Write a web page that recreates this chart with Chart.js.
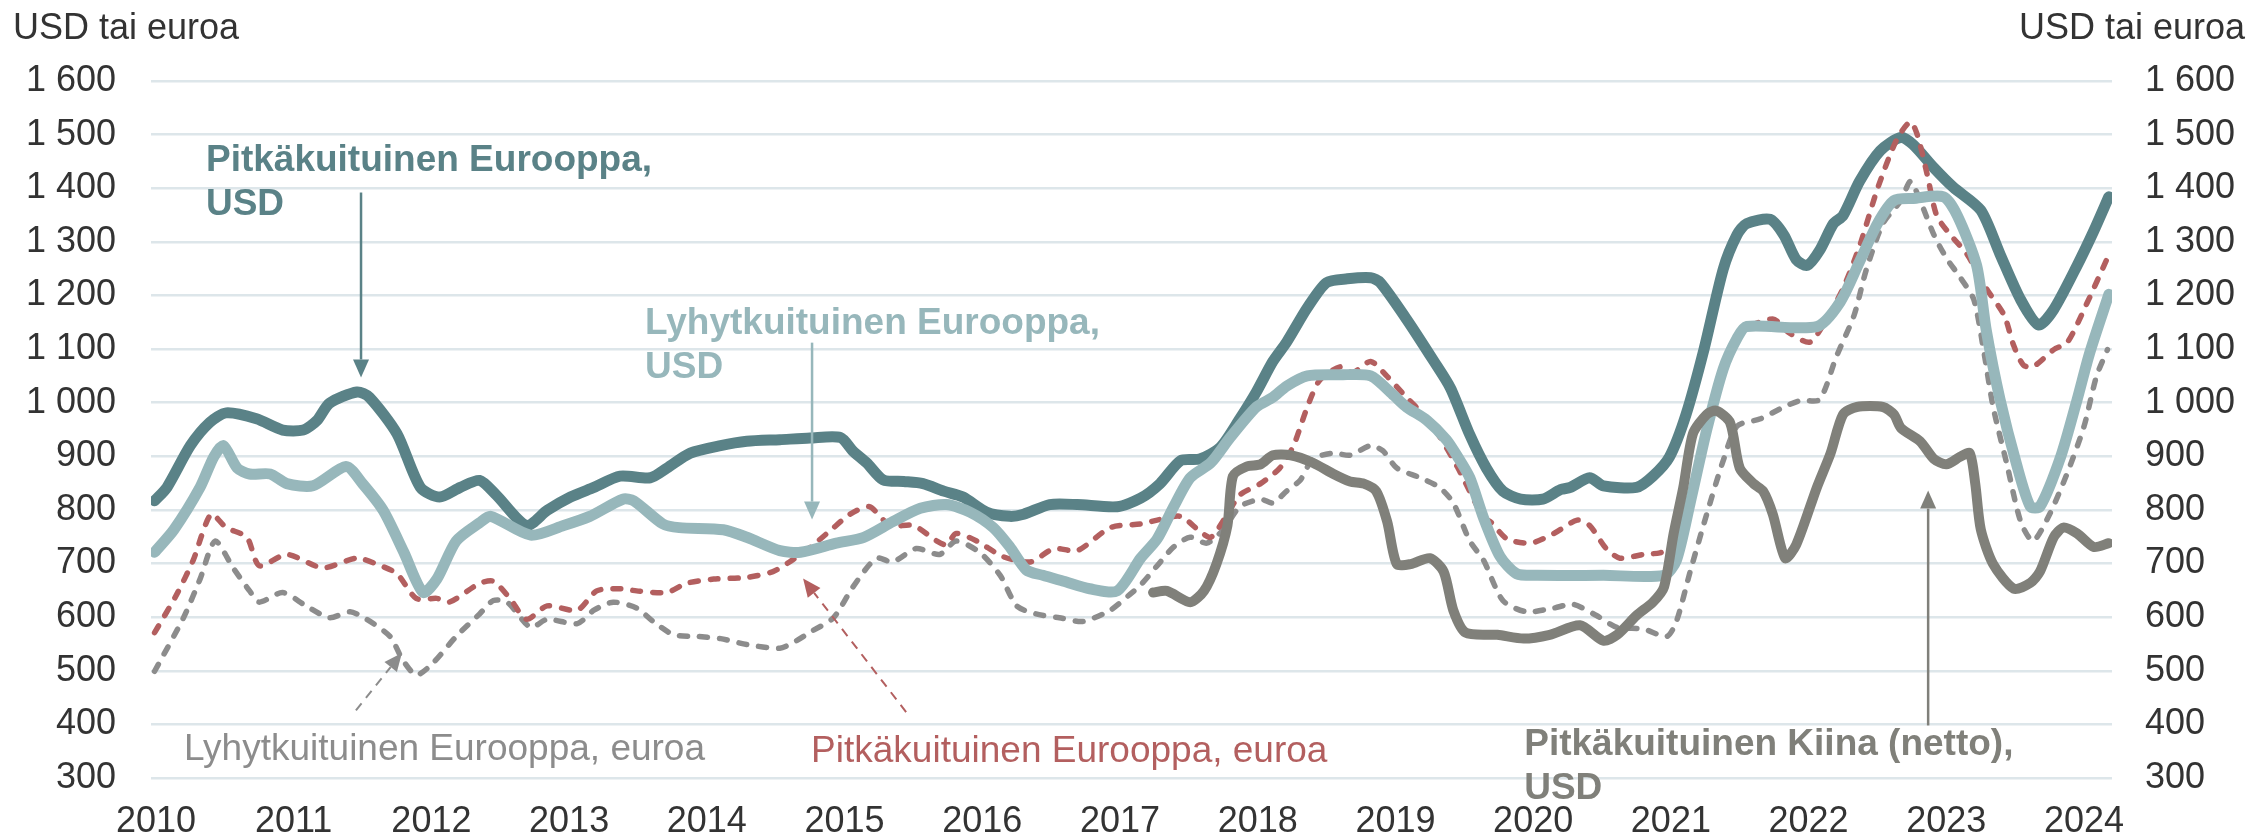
<!DOCTYPE html>
<html>
<head>
<meta charset="utf-8">
<script src="https://cdn.jsdelivr.net/npm/chart.js@4/dist/chart.umd.min.js"></script>
<style>
  body { margin: 0; background: #fff; }
  canvas { display: block; }
</style>
</head>
<body>
<canvas id="pulpChart" width="2255" height="840"></canvas>
<script>
// tick labels
const years = [2010, 2011, 2012, 2013, 2014, 2015, 2016, 2017, 2018, 2019, 2020, 2021, 2022, 2023, 2024];
const yMin = 300, yMax = 1600, yStep = 100;

// Pitkäkuituinen Eurooppa, USD
const pitkaUsdX = [2009.99, 2010.08, 2010.25, 2010.39, 2010.51, 2010.73, 2010.92, 2011.07, 2011.17, 2011.26, 2011.46, 2011.55, 2011.75, 2011.92, 2012.06, 2012.21, 2012.35, 2012.47, 2012.69, 2012.84, 2013.01, 2013.18, 2013.37, 2013.59, 2013.71, 2013.88, 2014.10, 2014.29, 2014.53, 2014.75, 2014.97, 2015.06, 2015.16, 2015.28, 2015.43, 2015.57, 2015.72, 2015.86, 2016.03, 2016.20, 2016.30, 2016.49, 2016.69, 2016.98, 2017.15, 2017.29, 2017.44, 2017.58, 2017.73, 2017.87, 2017.99, 2018.11, 2018.21, 2018.36, 2018.50, 2018.65, 2018.82, 2018.89, 2019.08, 2019.28, 2019.40, 2019.54, 2019.66, 2019.78, 2019.91, 2020.07, 2020.20, 2020.27, 2020.41, 2020.51, 2020.75, 2020.87, 2020.99, 2021.11, 2021.24, 2021.38, 2021.48, 2021.55, 2021.72, 2021.82, 2021.91, 2021.99, 2022.08, 2022.18, 2022.25, 2022.37, 2022.52, 2022.67, 2022.76, 2022.91, 2023.05, 2023.25, 2023.39, 2023.54, 2023.67, 2023.78, 2023.95, 2024.07, 2024.18];
const pitkaUsdY = [817, 842, 920, 963, 981, 970, 949, 949, 967, 999, 1020, 1010, 942, 842, 824, 842, 855, 828, 771, 799, 824, 842, 863, 860, 878, 906, 920, 928, 931, 934, 935, 910, 888, 856, 853, 849, 835, 824, 796, 788, 792, 810, 810, 806, 822, 849, 892, 895, 917, 970, 1020, 1077, 1113, 1177, 1224, 1231, 1233, 1224, 1156, 1077, 1027, 940, 878, 835, 820, 820, 838, 842, 860, 845, 842, 863, 899, 978, 1099, 1249, 1313, 1334, 1342, 1313, 1267, 1256, 1284, 1334, 1349, 1413, 1470, 1495, 1481, 1438, 1402, 1359, 1277, 1192, 1145, 1174, 1256, 1320, 1384];

// Lyhytkuituinen Eurooppa, USD
const lyhytUsdX = [2009.99, 2010.13, 2010.32, 2010.42, 2010.49, 2010.59, 2010.68, 2010.83, 2010.95, 2011.14, 2011.38, 2011.50, 2011.65, 2011.80, 2011.94, 2012.04, 2012.18, 2012.35, 2012.43, 2012.72, 2012.96, 2013.15, 2013.39, 2013.47, 2013.68, 2013.80, 2014.12, 2014.29, 2014.53, 2014.68, 2014.94, 2015.14, 2015.35, 2015.55, 2015.74, 2015.91, 2016.08, 2016.20, 2016.32, 2016.44, 2016.59, 2016.78, 2016.98, 2017.15, 2017.27, 2017.39, 2017.51, 2017.66, 2017.80, 2017.99, 2018.11, 2018.21, 2018.36, 2018.60, 2018.82, 2018.99, 2019.08, 2019.23, 2019.37, 2019.45, 2019.54, 2019.64, 2019.76, 2019.88, 2020.03, 2020.51, 2020.95, 2021.04, 2021.14, 2021.26, 2021.38, 2021.48, 2021.55, 2022.06, 2022.23, 2022.37, 2022.50, 2022.62, 2022.76, 2022.98, 2023.08, 2023.22, 2023.29, 2023.39, 2023.51, 2023.61, 2023.68, 2023.83, 2023.95, 2024.04, 2024.18];
const lyhytUsdY = [721, 763, 842, 899, 920, 878, 867, 867, 849, 845, 881, 849, 799, 721, 646, 671, 742, 776, 788, 753, 771, 788, 820, 817, 774, 767, 763, 749, 724, 721, 738, 749, 778, 803, 810, 796, 767, 731, 688, 678, 667, 653, 649, 710, 746, 806, 860, 888, 935, 992, 1010, 1031, 1050, 1052, 1050, 1013, 992, 967, 931, 900, 860, 785, 713, 681, 678, 678, 678, 706, 813, 949, 1063, 1120, 1142, 1142, 1188, 1263, 1334, 1377, 1381, 1384, 1349, 1256, 1135, 1006, 885, 806, 806, 899, 1006, 1092, 1202];

// Pitkäkuituinen Eurooppa, euroa
const pitkaEurX = [2009.99, 2010.15, 2010.27, 2010.40, 2010.51, 2010.66, 2010.75, 2010.95, 2011.21, 2011.46, 2011.63, 2011.75, 2011.89, 2012.04, 2012.13, 2012.35, 2012.45, 2012.57, 2012.69, 2012.84, 2013.06, 2013.20, 2013.37, 2013.49, 2013.71, 2013.85, 2014.05, 2014.29, 2014.48, 2014.60, 2014.75, 2014.89, 2015.04, 2015.18, 2015.33, 2015.50, 2015.67, 2015.74, 2015.81, 2015.96, 2016.15, 2016.35, 2016.52, 2016.69, 2016.93, 2017.15, 2017.27, 2017.44, 2017.58, 2017.66, 2017.78, 2017.87, 2018.02, 2018.16, 2018.26, 2018.36, 2018.45, 2018.60, 2018.69, 2018.82, 2018.94, 2019.08, 2019.15, 2019.30, 2019.45, 2019.64, 2019.69, 2019.81, 2019.98, 2020.15, 2020.32, 2020.41, 2020.53, 2020.63, 2020.80, 2020.92, 2021.02, 2021.14, 2021.26, 2021.38, 2021.50, 2021.74, 2021.86, 2022.01, 2022.13, 2022.25, 2022.37, 2022.50, 2022.64, 2022.74, 2022.79, 2022.86, 2022.93, 2023.03, 2023.15, 2023.29, 2023.42, 2023.49, 2023.56, 2023.63, 2023.78, 2023.88, 2024.02, 2024.17];
const pitkaEurY = [571, 642, 706, 792, 767, 749, 696, 717, 692, 710, 696, 681, 635, 635, 628, 663, 667, 635, 596, 621, 613, 649, 653, 649, 646, 663, 671, 674, 685, 703, 730, 760, 792, 806, 771, 771, 742, 735, 756, 742, 713, 703, 728, 724, 767, 774, 781, 788, 760, 749, 792, 828, 849, 878, 920, 992, 1042, 1067, 1056, 1077, 1049, 1010, 992, 945, 880, 785, 778, 746, 738, 756, 781, 771, 728, 710, 717, 720, 730, 820, 950, 1060, 1130, 1156, 1130, 1113, 1156, 1213, 1292, 1399, 1491, 1524, 1499, 1427, 1349, 1313, 1277, 1213, 1163, 1106, 1070, 1067, 1099, 1113, 1185, 1270];

// Lyhytkuituinen Eurooppa, euroa
const lyhytEurX = [2009.99, 2010.20, 2010.32, 2010.43, 2010.56, 2010.68, 2010.75, 2010.92, 2011.09, 2011.26, 2011.41, 2011.53, 2011.70, 2011.79, 2011.89, 2012.01, 2012.18, 2012.35, 2012.45, 2012.55, 2012.72, 2012.84, 2013.06, 2013.18, 2013.32, 2013.49, 2013.61, 2013.76, 2013.93, 2014.10, 2014.29, 2014.53, 2014.65, 2014.75, 2014.92, 2015.06, 2015.23, 2015.35, 2015.52, 2015.69, 2015.81, 2015.98, 2016.13, 2016.25, 2016.39, 2016.56, 2016.73, 2016.93, 2017.07, 2017.15, 2017.27, 2017.39, 2017.51, 2017.63, 2017.75, 2017.87, 2018.02, 2018.11, 2018.21, 2018.31, 2018.40, 2018.55, 2018.67, 2018.82, 2018.91, 2019.01, 2019.18, 2019.32, 2019.42, 2019.54, 2019.64, 2019.78, 2019.95, 2020.15, 2020.29, 2020.46, 2020.61, 2020.80, 2020.97, 2021.04, 2021.14, 2021.26, 2021.38, 2021.48, 2021.65, 2021.82, 2021.94, 2022.08, 2022.20, 2022.33, 2022.42, 2022.54, 2022.67, 2022.74, 2022.81, 2022.91, 2023.00, 2023.10, 2023.20, 2023.27, 2023.34, 2023.44, 2023.54, 2023.63, 2023.75, 2023.88, 2024.00, 2024.09, 2024.17];
const lyhytEurY = [499, 599, 671, 742, 692, 649, 628, 646, 621, 599, 610, 596, 564, 521, 492, 514, 564, 606, 631, 628, 581, 596, 588, 613, 628, 617, 592, 567, 564, 560, 549, 542, 556, 572, 599, 656, 710, 703, 728, 717, 742, 721, 678, 621, 606, 599, 592, 613, 642, 660, 696, 731, 749, 738, 763, 806, 820, 813, 835, 856, 895, 906, 902, 920, 910, 878, 860, 842, 813, 742, 706, 631, 610, 617, 624, 603, 581, 578, 564, 592, 685, 792, 892, 956, 970, 992, 1004, 1006, 1085, 1163, 1249, 1334, 1377, 1413, 1377, 1313, 1270, 1234, 1192, 1099, 992, 885, 778, 742, 792, 870, 956, 1049, 1099];

// Pitkäkuituinen Kiina (netto), USD
const kiinaX = [2017.24, 2017.34, 2017.51, 2017.61, 2017.70, 2017.78, 2017.82, 2017.92, 2018.02, 2018.11, 2018.24, 2018.40, 2018.55, 2018.67, 2018.77, 2018.86, 2018.94, 2019.01, 2019.11, 2019.25, 2019.35, 2019.42, 2019.51, 2019.74, 2019.93, 2020.12, 2020.34, 2020.51, 2020.61, 2020.75, 2020.87, 2020.95, 2021.02, 2021.09, 2021.16, 2021.26, 2021.33, 2021.43, 2021.50, 2021.60, 2021.67, 2021.74, 2021.83, 2021.91, 2022.06, 2022.16, 2022.25, 2022.35, 2022.54, 2022.62, 2022.67, 2022.81, 2022.91, 2023.00, 2023.10, 2023.17, 2023.21, 2023.25, 2023.34, 2023.49, 2023.61, 2023.68, 2023.78, 2023.85, 2023.95, 2024.07, 2024.18];
const kiinaY = [646, 649, 628, 649, 699, 771, 863, 881, 885, 902, 902, 888, 867, 853, 849, 835, 778, 699, 699, 710, 685, 613, 571, 567, 560, 567, 585, 556, 567, 603, 628, 656, 756, 842, 942, 978, 985, 963, 878, 849, 835, 792, 710, 735, 842, 906, 978, 992, 992, 978, 953, 928, 895, 885, 899, 906, 849, 764, 699, 653, 664, 685, 749, 767, 756, 731, 738];

const FONT = '"Liberation Sans", Arial, sans-serif';
const TEXT = '#333333';
const C_PITKA = '#5a8287';
const C_LYHYT = '#97b7bb';
const C_PEUR = '#b35f5f';
const C_LEUR = '#8c8c8c';
const C_KIINA = '#80807a';

const zip = (xs, ys) => xs.map((x, i) => ({ x: x, y: ys[i] }));
const fmt = (v) => v >= 1000 ? Math.floor(v / 1000) + ' ' + String(v % 1000).padStart(3, '0') : String(v);

// text labels and arrows, placed in data units
const labels = [
    { lines: ['Pitkäkuituinen Eurooppa,', 'USD'], x: 2010.363, y: 1433, color: C_PITKA, bold: true },
    { lines: ['Lyhytkuituinen Eurooppa,', 'USD'], x: 2013.551, y: 1129, color: C_LYHYT, bold: true },
    { lines: ['Lyhytkuituinen Eurooppa, euroa'], x: 2010.203, y: 333, color: C_LEUR, bold: false },
    { lines: ['Pitkäkuituinen Eurooppa, euroa'], x: 2014.757, y: 329, color: C_PEUR, bold: false },
    { lines: ['Pitkäkuituinen Kiina (netto),', 'USD'], x: 2019.935, y: 342, color: C_KIINA, bold: true }
];
const arrows = [
    { x0: 2011.489, y0: 1392, x1: 2011.489, y1: 1047, color: C_PITKA, dashed: false },
    { x0: 2014.764, y0: 1112, x1: 2014.764, y1: 782, color: C_LYHYT, dashed: false },
    { x0: 2011.452, y0: 426, x1: 2011.786, y1: 533, color: C_LEUR, dashed: true },
    { x0: 2015.447, y0: 423, x1: 2014.699, y1: 672, color: C_PEUR, dashed: true },
    { x0: 2022.868, y0: 398, x1: 2022.868, y1: 836, color: C_KIINA, dashed: false }
];

const annotationPlugin = {
    id: 'annotations',
    afterDraw(chart) {
        const ctx = chart.ctx;
        const xs = chart.scales.x, ys = chart.scales.y;
        ctx.save();
        // axis titles
        ctx.fillStyle = TEXT;
        ctx.font = '36px ' + FONT;
        ctx.textBaseline = 'alphabetic';
        ctx.textAlign = 'left';
        ctx.fillText('USD tai euroa', 13, 39);
        ctx.textAlign = 'right';
        ctx.fillText('USD tai euroa', 2245, 39);

        ctx.textAlign = 'left';
        labels.forEach(l => {
            ctx.fillStyle = l.color;
            ctx.font = (l.bold ? 'bold ' : '') + '37px ' + FONT;
            const px = xs.getPixelForValue(l.x);
            const py = ys.getPixelForValue(l.y);
            l.lines.forEach((t, i) => ctx.fillText(t, px, py + i * 44));
        });

        arrows.forEach(a => {
            const x0 = xs.getPixelForValue(a.x0), y0 = ys.getPixelForValue(a.y0);
            const x1 = xs.getPixelForValue(a.x1), y1 = ys.getPixelForValue(a.y1);
            const ang = Math.atan2(y1 - y0, x1 - x0);
            const head = 18, half = 8;
            ctx.strokeStyle = a.color;
            ctx.fillStyle = a.color;
            ctx.lineWidth = a.dashed ? 2 : 2.5;
            ctx.setLineDash(a.dashed ? [9, 7] : []);
            ctx.beginPath();
            ctx.moveTo(x0, y0);
            ctx.lineTo(x1 - Math.cos(ang) * head, y1 - Math.sin(ang) * head);
            ctx.stroke();
            ctx.setLineDash([]);
            ctx.beginPath();
            ctx.moveTo(x1, y1);
            ctx.lineTo(x1 - Math.cos(ang) * head - Math.sin(ang) * half, y1 - Math.sin(ang) * head + Math.cos(ang) * half);
            ctx.lineTo(x1 - Math.cos(ang) * head + Math.sin(ang) * half, y1 - Math.sin(ang) * head - Math.cos(ang) * half);
            ctx.closePath();
            ctx.fill();
        });
        ctx.restore();
    }
};

const lineStyle = (color, width, dash) => ({
    borderColor: color,
    backgroundColor: color,
    borderWidth: width,
    borderDash: dash || [],
    borderCapStyle: 'round',
    borderJoinStyle: 'round',
    pointRadius: 0,
    tension: 0.25,
    fill: false
});

const myChart = new Chart(document.getElementById('pulpChart').getContext('2d'), {
    type: 'line',
    plugins: [annotationPlugin],
    data: {
        datasets: [
            Object.assign({ label: 'Pitkäkuituinen Eurooppa, USD', data: zip(pitkaUsdX, pitkaUsdY), order: 4 }, lineStyle(C_PITKA, 11)),
            Object.assign({ label: 'Lyhytkuituinen Eurooppa, euroa', data: zip(lyhytEurX, lyhytEurY), order: 3 }, lineStyle(C_LEUR, 5.5, [8, 12])),
            Object.assign({ label: 'Pitkäkuituinen Eurooppa, euroa', data: zip(pitkaEurX, pitkaEurY), order: 2 }, lineStyle(C_PEUR, 5.5, [8, 12])),
            Object.assign({ label: 'Lyhytkuituinen Eurooppa, USD', data: zip(lyhytUsdX, lyhytUsdY), order: 1 }, lineStyle(C_LYHYT, 11)),
            Object.assign({ label: 'Pitkäkuituinen Kiina (netto), USD', data: zip(kiinaX, kiinaY), order: 0 }, lineStyle(C_KIINA, 10))
        ]
    },
    options: {
        responsive: false,
        animation: false,
        devicePixelRatio: 1,
        layout: { padding: { top: 81, left: 0, right: 0, bottom: 0 } },
        plugins: {
            legend: { display: false },
            tooltip: { enabled: false }
        },
        scales: {
            x: {
                type: 'linear',
                min: 2009.964,
                max: 2024.203,
                grid: { display: false, drawTicks: false },
                border: { display: false },
                afterBuildTicks: (scale) => { scale.ticks = years.map(v => ({ value: v })); },
                afterFit: (scale) => { scale.height = 62; },
                ticks: {
                    autoSkip: false,
                    maxRotation: 0,
                    padding: 22,
                    color: TEXT,
                    font: { family: FONT, size: 36 },
                    callback: (v) => String(v)
                }
            },
            y: {
                position: 'left',
                min: yMin,
                max: yMax,
                grid: { color: '#dde6ea', lineWidth: 2.5, drawTicks: false },
                border: { display: false },
                afterFit: (scale) => { scale.width = 151; },
                ticks: {
                    stepSize: yStep,
                    padding: 35,
                    color: TEXT,
                    font: { family: FONT, size: 36 },
                    callback: fmt
                }
            },
            y2: {
                position: 'right',
                min: yMin,
                max: yMax,
                grid: { display: false, drawTicks: false },
                border: { display: false },
                afterFit: (scale) => { scale.width = 143; },
                ticks: {
                    stepSize: yStep,
                    padding: 33,
                    color: TEXT,
                    font: { family: FONT, size: 36 },
                    callback: fmt
                }
            }
        }
    }
});
</script>
</body>
</html>
